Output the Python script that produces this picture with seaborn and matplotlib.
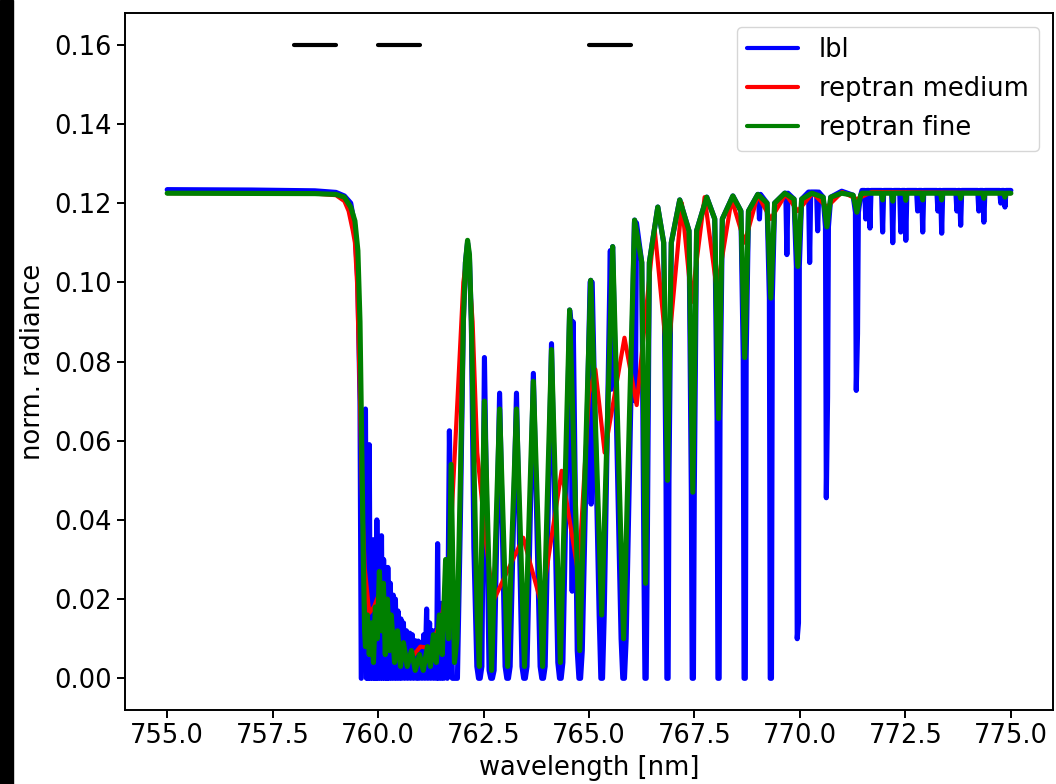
import matplotlib
matplotlib.use("Agg")
import matplotlib.pyplot as plt
import seaborn as sns
import pandas as pd
from matplotlib.patches import Rectangle
from matplotlib.ticker import MultipleLocator, ScalarFormatter

# ------------------------------------------------------------------
# Values
# ------------------------------------------------------------------
# lbl: continuum and band head
lbl_edge_nm = [755.0, 757.0, 758.5, 759.0, 759.2, 759.35, 759.45, 759.52, 759.57, 759.60]
lbl_edge = [0.1234, 0.1233, 0.1231, 0.1227, 0.1218, 0.120, 0.114, 0.100, 0.070, 0.0]

# lbl: dense R branch (line tops alternating with saturated cores)
lbl_rb_nm = [759.70, 759.725, 759.745, 759.765, 759.79, 759.815, 759.84, 759.865, 759.89, 759.915,
             759.94, 759.955, 759.97, 759.995, 760.02, 760.05, 760.08, 760.105, 760.13, 760.16,
             760.19, 760.21, 760.23, 760.26, 760.29, 760.32, 760.36, 760.38, 760.41, 760.44,
             760.47, 760.50, 760.54, 760.56, 760.60, 760.63, 760.67, 760.70, 760.75, 760.77,
             760.81, 760.84, 760.88, 760.91, 760.95, 760.97, 761.01, 761.04, 761.08, 761.11,
             761.15, 761.18, 761.22, 761.25, 761.29, 761.32, 761.36, 761.385, 761.41, 761.44,
             761.48, 761.50, 761.53, 761.56, 761.60, 761.64, 761.69, 761.76, 761.88]
lbl_rb = [0.068, 0.0, 0.030, 0.0, 0.059, 0.0, 0.030, 0.0, 0.035, 0.0,
          0.030, 0.0, 0.040, 0.0, 0.032, 0.0, 0.036, 0.0, 0.030, 0.0,
          0.026, 0.0, 0.028, 0.0, 0.024, 0.0, 0.021, 0.0, 0.020, 0.0,
          0.017, 0.0, 0.015, 0.0, 0.014, 0.0, 0.012, 0.0, 0.0114, 0.0,
          0.011, 0.0, 0.0095, 0.0, 0.0094, 0.0, 0.009, 0.0, 0.011, 0.0,
          0.0175, 0.0, 0.014, 0.0, 0.012, 0.0, 0.012, 0.0, 0.034, 0.0,
          0.015, 0.0, 0.019, 0.0, 0.020, 0.0, 0.0625, 0.0, 0.0]

# lbl: first strong window peak
lbl_p1_nm = [761.95, 762.02, 762.07, 762.12, 762.165, 762.21, 762.27]
lbl_p1 = [0.040, 0.090, 0.105, 0.110, 0.106, 0.090, 0.033]

# reptran fine: continuum, band head, R branch and first strong peak
fine_head_nm = [755.0, 758.5, 759.0, 759.2, 759.35, 759.45, 759.52, 759.57, 759.61, 759.65, 759.68,
                759.70, 759.745, 759.79, 759.84, 759.89, 759.935, 759.98, 760.03, 760.08, 760.125,
                760.17, 760.22, 760.27, 760.31, 760.39, 760.46, 760.53, 760.60, 760.69, 760.79,
                760.88, 760.98, 761.07, 761.17, 761.24, 761.31, 761.38, 761.45, 761.52, 761.60,
                761.67, 761.73, 761.81, 761.87,
                761.95, 762.02, 762.07, 762.12, 762.165, 762.21, 762.28, 762.35]
fine_head = [0.1225, 0.1224, 0.1222, 0.1215, 0.119, 0.1155, 0.108, 0.090, 0.060, 0.030, 0.012,
             0.008, 0.016, 0.006, 0.014, 0.004, 0.018, 0.010, 0.027, 0.012, 0.024,
             0.006, 0.020, 0.007, 0.016, 0.004, 0.012, 0.003, 0.009, 0.003, 0.007,
             0.002, 0.006, 0.002, 0.008, 0.003, 0.011, 0.004, 0.016, 0.006, 0.030,
             0.010, 0.054, 0.004, 0.010,
             0.050, 0.090, 0.105, 0.1106, 0.107, 0.090, 0.050, 0.015]

# P branch: centres of the line pairs and the minima reached there
pb_nm = [762.40, 762.69, 763.07, 763.47, 763.90, 764.32, 764.78, 765.30, 765.82,
         766.34, 766.86, 767.46, 768.07, 768.69, 769.31, 769.95, 770.64, 771.35]
pb_lbl_a = [0.0, 0.0, 0.0, 0.0, 0.0, 0.0, 0.0, 0.0, 0.0,
            0.0, 0.0, 0.0, 0.0, 0.0, 0.0, 0.010, 0.0456, 0.0727]
pb_lbl_b = [0.0, 0.0, 0.0, 0.0, 0.0, 0.0, 0.0, 0.0, 0.0,
            0.0, 0.0, 0.0, 0.0, 0.0, 0.0, 0.014, 0.071, 0.087]
pb_fine = [0.003, 0.002, 0.003, 0.003, 0.003, 0.004, 0.007, 0.016, 0.010,
           0.024, 0.050, 0.047, 0.0656, 0.081, 0.096, 0.104, 0.114, 0.1177]
# level of the (fine) arches just beside each pair, where the arches are broad
pb_shoulder = [None, None, None, None, None, None, None, None, None,
               0.105, 0.110, 0.113, 0.116, 0.118, 0.120, 0.121, 0.1215, 0.122]

# maxima between the P-branch pairs
pk_nm = [762.52, 762.88, 763.28, 763.68, 764.11, 764.54, 765.04, 765.56, 766.08,
         766.63, 767.15, 767.79, 768.41, 769.00, 769.64, 770.28, 770.99]
pk_lbl = [0.081, 0.072, 0.072, 0.077, 0.0845, 0.093, 0.1005, 0.109, 0.1157,
          0.119, 0.1208, 0.1215, 0.1218, 0.1222, 0.1225, 0.1228, 0.1230]
pk_fine = [0.070, 0.068, 0.068, 0.075, 0.083, 0.093, 0.1005, 0.109, 0.1157,
           0.119, 0.1208, 0.1215, 0.1218, 0.1222, 0.1225, 0.1225, 0.1225]

# weaker lbl lines: centre, level around the line, line minimum
weak_nm = [764.60, 765.05, 765.53, 766.10, 769.04, 769.69, 770.23, 770.42,
           771.56, 771.66, 771.96, 772.20, 772.39, 772.51, 772.79, 772.91,
           773.27, 773.36, 773.72, 773.81, 774.24, 774.36, 774.76, 774.86]
weak_top = [0.090, 0.100, 0.108, 0.115, 0.1222, 0.1225, 0.1228, 0.1228,
            0.1232, 0.1232, 0.1232, 0.1232, 0.1232, 0.1232, 0.1232, 0.1232,
            0.1232, 0.1232, 0.1232, 0.1232, 0.1232, 0.1232, 0.1232, 0.1232]
weak_lbl = [0.022, 0.044, 0.073, 0.070, 0.116, 0.107, 0.105, 0.113,
            0.116, 0.1137, 0.1127, 0.110, 0.1127, 0.1106, 0.118, 0.1127,
            0.118, 0.1124, 0.118, 0.1144, 0.118, 0.1152, 0.120, 0.119]

# small dips of reptran fine in the tail
fine_weak_nm = [771.96, 772.20, 772.51, 772.91, 773.36, 773.81, 774.36, 774.86]
fine_weak = [0.1208, 0.1205, 0.1207, 0.1208, 0.1208, 0.1212, 0.1212, 0.1215]
fine_cont = 0.1225

# flat tail
tail_nm = [771.47, 775.0]
tail_lbl = [0.1232, 0.1232]
tail_fine = [0.1225, 0.1225]

# reptran medium (coarse resolution)
med_nm = [755.0, 758.5, 759.0, 759.2, 759.3, 759.4, 759.45, 759.5, 759.56, 759.62,
          759.68, 759.79, 759.9, 760.05, 760.2, 760.4, 760.69, 760.85, 761.0, 761.26,
          761.52, 761.69, 761.88, 762.02, 762.12, 762.24, 762.35, 762.55, 762.73, 763.44,
          763.87, 764.35, 764.75, 765.0, 765.15, 765.37, 765.84, 766.13, 766.55, 766.86,
          767.2, 767.43, 767.74, 768.03, 768.38, 768.69, 769.0, 769.31, 769.66, 769.95,
          770.3, 770.64, 771.0, 771.35, 771.7, 775.0]
med = [0.1225, 0.1224, 0.1220, 0.1205, 0.118, 0.113, 0.110, 0.100, 0.075, 0.045,
       0.028, 0.0165, 0.018, 0.022, 0.016, 0.010, 0.005, 0.006, 0.008, 0.0076,
       0.016, 0.030, 0.070, 0.100, 0.108, 0.090, 0.057, 0.035, 0.0195, 0.0355,
       0.0187, 0.0524, 0.026, 0.072, 0.078, 0.057, 0.086, 0.069, 0.114, 0.080,
       0.120, 0.095, 0.1215, 0.098, 0.121, 0.110, 0.122, 0.116, 0.1222, 0.118,
       0.1225, 0.119, 0.1228, 0.121, 0.1228, 0.1225]

# black window markers at the top
mark_lo = [758.0, 760.0, 765.0]
mark_hi = [759.0, 761.0, 766.0]
mark_y = 0.16

series_labels = ["lbl", "reptran medium", "reptran fine"]


# ------------------------------------------------------------------
# assemble vertex tables
# ------------------------------------------------------------------
def lbl_table():
    pts = list(zip(lbl_edge_nm, lbl_edge))
    pts += list(zip(lbl_rb_nm, lbl_rb))
    pts += list(zip(lbl_p1_nm, lbl_p1))
    for c, a, b, g, sh in zip(pb_nm, pb_lbl_a, pb_lbl_b, pb_fine, pb_shoulder):
        if sh is None:
            pts += [(c - 0.06, max(g, a)), (c - 0.02, a), (c + 0.02, b), (c + 0.06, max(g, b))]
        else:
            pts += [(c - 0.09, sh), (c - 0.035, max(g, a)), (c - 0.015, a),
                    (c + 0.015, b), (c + 0.035, max(g, b)), (c + 0.09, sh)]
    pts += list(zip(pk_nm, pk_lbl))
    for c, top, d in zip(weak_nm, weak_top, weak_lbl):
        pts += [(c - 0.025, top), (c, d), (c + 0.025, top)]
    pts += list(zip(tail_nm, tail_lbl))
    pts.sort()
    return pd.DataFrame(pts, columns=["nm", "rad"])


def fine_table():
    pts = list(zip(fine_head_nm, fine_head))
    for c, g, sh in zip(pb_nm, pb_fine, pb_shoulder):
        pts.append((c, g))
        if sh is not None:
            pts += [(c - 0.09, sh), (c + 0.09, sh)]
    pts += list(zip(pk_nm, pk_fine))
    for c, d in zip(fine_weak_nm, fine_weak):
        pts += [(c - 0.025, fine_cont), (c, d), (c + 0.025, fine_cont)]
    pts += list(zip(tail_nm, tail_fine))
    pts.sort()
    return pd.DataFrame(pts, columns=["nm", "rad"])


df_lbl = lbl_table()
df_fine = fine_table()
df_med = pd.DataFrame({"nm": med_nm, "rad": med})

# ------------------------------------------------------------------
# plotting
# ------------------------------------------------------------------
sns.set_style("ticks")
plt.rcParams.update({
    "font.family": ["DejaVu Sans"],
    "font.size": 18.5,
    "axes.edgecolor": "black",
    "axes.linewidth": 1.4,
    "text.color": "black",
    "axes.labelcolor": "black",
    "xtick.color": "black",
    "ytick.color": "black",
    "xtick.major.size": 6,
    "ytick.major.size": 6,
    "xtick.major.width": 1.4,
    "ytick.major.width": 1.4,
    "xtick.labelsize": 18.5,
    "ytick.labelsize": 18.5,
    "legend.fontsize": 18.5,
})

LW = 3.7
LW_THIN = 3.0
fig = plt.figure(figsize=(10.56, 7.84), dpi=100)
ax = fig.add_axes([0.1184, 0.0944, 0.8788, 0.889])

sns.lineplot(data=df_lbl, x="nm", y="rad", color="b", lw=LW, label=series_labels[0],
             estimator=None, ax=ax)
sns.lineplot(data=df_med, x="nm", y="rad", color="r", lw=LW_THIN, label=series_labels[1],
             estimator=None, ax=ax)
sns.lineplot(data=df_fine, x="nm", y="rad", color="g", lw=LW, label=series_labels[2],
             estimator=None, ax=ax)
for lo, hi in zip(mark_lo, mark_hi):
    sns.lineplot(x=[lo, hi], y=[mark_y, mark_y], color="k", lw=LW_THIN, ax=ax, legend=False)

ax.xaxis.set_major_locator(MultipleLocator(2.5))
ax.yaxis.set_major_locator(MultipleLocator(0.02))
fmt = ScalarFormatter(useOffset=False)
ax.xaxis.set_major_formatter(fmt)
ax.set_xlabel("wavelength [nm]")
ax.set_ylabel("norm. radiance", labelpad=6)
leg = ax.legend(loc="upper right", frameon=True, fancybox=True, framealpha=0.8,
                edgecolor="0.8", borderaxespad=0.55)
for h in leg.get_lines():
    h.set_linewidth(LW_THIN)

fig.add_artist(Rectangle((0, 0), 13 / 1056, 1, transform=fig.transFigure,
                         color="black", zorder=10))

fig.savefig("out.png", dpi=100, facecolor="white")
